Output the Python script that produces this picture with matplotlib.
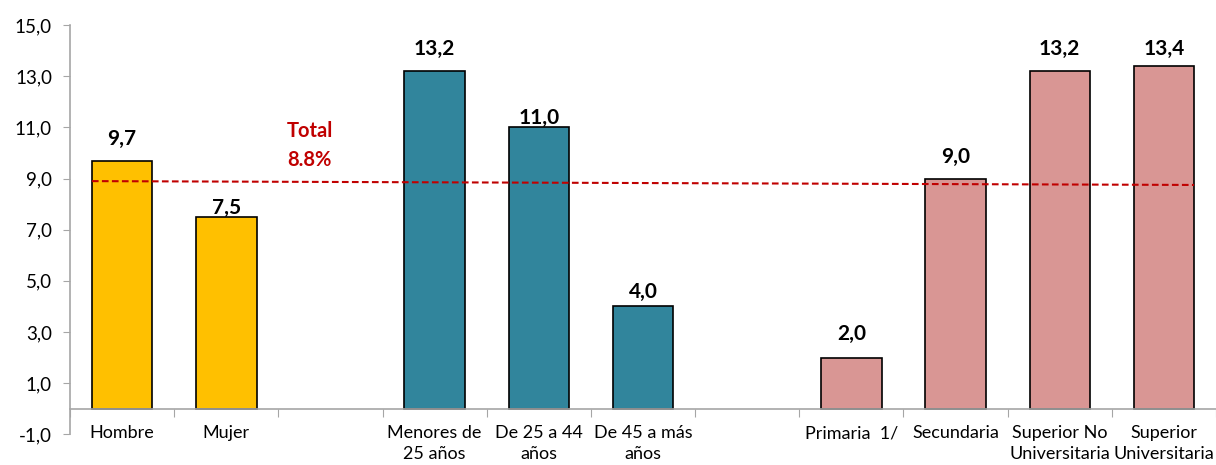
import matplotlib
matplotlib.use("Agg")
import matplotlib.pyplot as plt
from matplotlib.ticker import FixedLocator, FuncFormatter

# ==========================================
# DATA
# ==========================================
categories = ["Hombre", "Mujer", "",
              "Menores de\n25 años", "De 25 a 44\naños", "De 45 a más\naños", "",
              "Primaria  1/", "Secundaria", "Superior No\nUniversitaria", "Superior\nUniversitaria"]
values = [9.7, 7.5, None, 13.2, 11.0, 4.0, None, 2.0, 9.0, 13.2, 13.4]
groups = ["sexo", "sexo", None, "edad", "edad", "edad", None, "educ", "educ", "educ", "educ"]
total_label = "Total\n8.8%"
total_line = [8.9, 8.75]  # dashed line, slightly tilted in the original

# ==========================================
# STYLE
# ==========================================
colors = {"sexo": "#FFC000", "edad": "#31859C", "educ": "#D99694"}
label_nudge = [0, -13, 0, 0, -13, -8, 0, 2, 0, 0, -5]  # px, per bar value label
BAR_W = 0.58
AXIS_GRAY = "#A6A6A6"
plt.rcParams["font.family"] = ["Lato", "DejaVu Sans"]

fig = plt.figure(figsize=(12.16, 4.65), dpi=100)
ax = fig.add_axes([0.0576, 0.066, 0.9424, 0.880])

for i, (v, g) in enumerate(zip(values, groups)):
    if v is None:
        continue
    ax.bar(i, v, width=BAR_W, color=colors[g], edgecolor="black", linewidth=1.2, zorder=2)
    ax.annotate(f"{v:.1f}".replace(".", ","), xy=(i, v),
                xytext=(0, 12 + label_nudge[i]), textcoords="offset pixels",
                ha="center", va="bottom", fontsize=15, fontweight="bold", zorder=4)

# Total reference line
ax.plot([-BAR_W / 2, len(categories) - 1 + BAR_W / 2], total_line,
        color="#C00000", linestyle=(0, (3.2, 1.6)), linewidth=1.5, zorder=3)
ax.text(1.8, 10.3, total_label, color="#C00000", fontsize=14.5, fontweight="bold",
        ha="center", va="center", linespacing=1.6)

# Axes
ax.set_xlim(-0.5, len(categories) - 0.5)
ax.set_ylim(-1, 15)
ax.yaxis.set_major_locator(FixedLocator([-1, 1, 3, 5, 7, 9, 11, 13, 15]))
ax.yaxis.set_major_formatter(FuncFormatter(lambda y, _: f"{y:.1f}".replace(".", ",")))
ax.tick_params(axis="y", direction="out", length=5, color=AXIS_GRAY, labelsize=13.5, pad=8)

ax.xaxis.set_major_locator(FixedLocator([k - 0.5 for k in range(len(categories) + 1)]))
ax.xaxis.set_major_formatter(FuncFormatter(lambda x, _: ""))
ax.xaxis.set_minor_locator(FixedLocator(list(range(len(categories)))))
ax.set_xticklabels(categories, minor=True)
ax.tick_params(axis="x", which="major", direction="out", length=6, color=AXIS_GRAY)
ax.tick_params(axis="x", which="minor", length=0, labelsize=13, pad=12)

ax.spines["bottom"].set_position(("data", 0))
ax.spines["bottom"].set_color(AXIS_GRAY)
ax.spines["left"].set_color(AXIS_GRAY)
ax.spines["bottom"].set_linewidth(1.2)
ax.spines["left"].set_linewidth(1.2)
ax.spines["top"].set_visible(False)
ax.spines["right"].set_visible(False)

# tick labels are rebuilt on draw, so style them after a first draw
fig.canvas.draw()
for lbl in ax.get_xticklabels(minor=True):
    lbl.set_verticalalignment("top")
    lbl.set_multialignment("center")
    lbl.set_linespacing(1.35)

fig.savefig("out.png", dpi=100)
